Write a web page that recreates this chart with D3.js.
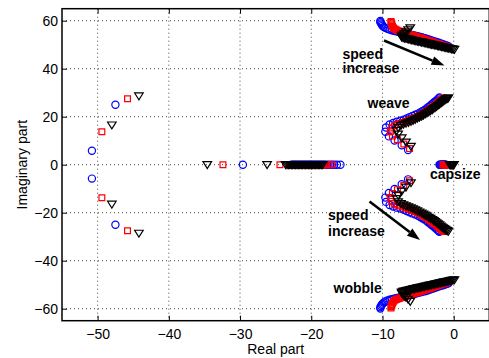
<!DOCTYPE html>
<html>
<head>
<meta charset="utf-8">
<script src="https://cdn.jsdelivr.net/npm/d3@7"></script>
<style>
  html, body { margin: 0; padding: 0; background: #fff; }
  svg { display: block; font-family: "Liberation Sans", Arial, Helvetica, sans-serif; }
</style>
</head>
<body>
<svg id="chart" width="489" height="358"></svg>
<script>
// ---- tick labels ----
const xTicks = [-50, -40, -30, -20, -10, 0];
const yTicks = [-60, -40, -20, 0, 20, 40, 60];

// ---- blue (circles) : upper-half eigenvalues [real, imag] ----
const blueFarPair = [[-50.8, 5.8], [-47.5, 25.0]];
const blueWobble = [[-10.3,59.9],[-10.3,59.4],[-10.2,58.9],[-10.1,58.4],[-10.0,57.9],[-9.8,57.4],[-9.6,57.0],[-9.3,56.6],[-9.0,56.3],[-8.7,56.0],[-8.4,55.8],[-8.1,55.6],[-7.8,55.4],[-7.5,55.2],[-7.2,55.0],[-6.9,54.8],[-6.6,54.6],[-6.3,54.4],[-6.0,54.2],[-5.7,54.0],[-5.4,53.8],[-5.1,53.5],[-4.8,53.3],[-4.5,53.1],[-4.2,52.8],[-3.9,52.6],[-3.6,52.3],[-3.3,52.0],[-3.0,51.7],[-2.7,51.4],[-2.4,51.1],[-2.1,50.8],[-1.8,50.5],[-1.5,50.2],[-1.2,49.9],[-0.9,49.6],[-0.7,49.3]];
const blueWeave = [[-6.4,6.1],[-7.3,8.1],[-8.3,10.1],[-9.1,11.8],[-9.6,13.7],[-9.5,15.5],[-9.0,16.8],[-8.5,17.4],[-8.0,17.9],[-7.5,18.3],[-7.0,18.8],[-6.6,19.3],[-6.2,19.8],[-5.8,20.3],[-5.4,20.8],[-5.0,21.3],[-4.7,21.8],[-4.4,22.3],[-4.1,22.8],[-3.8,23.4],[-3.6,24.0],[-3.3,24.6],[-3.1,25.1],[-2.9,25.6],[-2.7,26.1],[-2.5,26.6],[-2.3,27.1],[-2.1,27.6],[-2.0,28.0]];
const blueReal = [-29.6,-22.8,-22.6,-22.4,-22.2,-22.0,-21.8,-21.6,-21.4,-21.2,-21.0,-20.8,-20.6,-20.4,-20.2,-20.0,-19.8,-19.6,-19.4,-19.2,-19.0,-18.8,-18.6,-18.4,-18.2,-18.0,-17.7,-17.4,-17.1,-16.8,-16.4,-15.9];
const blueCapsize = [-2.0,-1.9,-1.8,-1.7,-1.6,-1.5,-1.42,-1.34,-1.26,-1.18,-1.1];

// ---- red (squares) ----
const redFarPair = [[-49.4, 13.75], [-45.8, 27.5]];
const redWobble = [[-8.8,59.7],[-8.8,59.2],[-8.7,58.7],[-8.7,58.2],[-8.6,57.7],[-8.5,57.2],[-8.4,56.8],[-8.2,56.4],[-8.0,56.1],[-7.8,55.85],[-7.6,55.65],[-7.4,55.45],[-7.2,55.25],[-7.0,55.05],[-6.8,54.85],[-6.6,54.65],[-6.4,54.45],[-6.2,54.25],[-6.0,54.05],[-5.8,53.85],[-5.6,53.7],[-5.4,53.5],[-5.2,53.3],[-5.0,53.1],[-4.8,52.95],[-4.6,52.75],[-4.4,52.55],[-4.2,52.35],[-4.0,52.15],[-3.8,51.95],[-3.6,51.75],[-3.4,51.55],[-3.2,51.35],[-3.0,51.15],[-2.8,50.95],[-2.6,50.75],[-2.4,50.55],[-2.2,50.35],[-2.0,50.15],[-1.8,49.95],[-1.6,49.75],[-1.4,49.55],[-1.2,49.35],[-1.0,49.15],[-0.9,49.0]];
const redWeave = [[-6.2,6.7],[-7.0,8.6],[-7.9,10.4],[-8.6,12.0],[-8.9,13.7],[-8.7,15.3],[-8.3,16.3],[-7.9,16.8],[-7.5,17.2],[-7.1,17.6],[-6.75,18.0],[-6.4,18.4],[-6.05,18.8],[-5.7,19.2],[-5.4,19.6],[-5.1,20.0],[-4.8,20.45],[-4.5,20.9],[-4.25,21.35],[-4.0,21.8],[-3.75,22.25],[-3.5,22.7],[-3.3,23.2],[-3.1,23.7],[-2.9,24.15],[-2.7,24.6],[-2.5,25.05],[-2.3,25.5],[-2.15,25.9],[-2.0,26.3],[-1.85,26.7],[-1.7,27.05],[-1.55,27.4],[-1.4,27.8]];
const redReal = [-32.4,-24.4,-23.0,-22.8,-22.6,-22.4,-22.2,-22.0,-21.8,-21.6,-21.4,-21.2,-21.0,-20.8,-20.6,-20.4,-20.2,-20.0,-19.8,-19.6,-19.4,-19.2,-19.0,-18.8,-18.6,-18.4,-18.2,-17.9,-17.5,-17.1];
const redCapsize = [-1.5,-1.4,-1.3,-1.2,-1.1,-1.0,-0.92,-0.84,-0.76,-0.68,-0.6];

// ---- black (down triangles) ----
const blackFarPair = [[-48.0, 16.5], [-44.2, 28.6]];
const blackWobble = [[-6.1,57.0],[-6.4,56.1],[-6.7,55.3],[-6.95,54.6],[-7.15,54.0],[-7.3,53.5],[-7.3,53.1],[-7.1,52.85],[-6.9,52.7],[-6.7,52.55],[-6.5,52.4],[-6.3,52.25],[-6.1,52.1],[-5.9,51.95],[-5.7,51.8],[-5.5,51.7],[-5.3,51.55],[-5.1,51.4],[-4.9,51.3],[-4.7,51.15],[-4.5,51.0],[-4.3,50.9],[-4.1,50.75],[-3.9,50.6],[-3.7,50.5],[-3.5,50.35],[-3.3,50.2],[-3.1,50.1],[-2.9,49.95],[-2.7,49.8],[-2.5,49.7],[-2.3,49.55],[-2.1,49.4],[-1.9,49.3],[-1.7,49.15],[-1.5,49.0],[-1.3,48.9],[-1.1,48.75],[-0.9,48.6],[-0.7,48.5],[-0.5,48.35],[-0.3,48.2],[-0.1,48.1],[0.1,48.0]];
const blackWeave = [[-6.0,7.6],[-6.7,9.4],[-7.3,11.1],[-7.8,12.7],[-8.0,14.2],[-7.8,15.5],[-7.4,16.3],[-7.05,16.8],[-6.7,17.2],[-6.35,17.6],[-6.0,18.0],[-5.7,18.4],[-5.4,18.85],[-5.1,19.3],[-4.8,19.75],[-4.5,20.2],[-4.25,20.6],[-4.0,21.05],[-3.75,21.5],[-3.5,21.95],[-3.25,22.4],[-3.0,22.9],[-2.8,23.35],[-2.6,23.8],[-2.4,24.25],[-2.2,24.7],[-2.0,25.15],[-1.8,25.6],[-1.65,26.0],[-1.5,26.35],[-1.35,26.7],[-1.2,27.0],[-1.05,27.3],[-0.9,27.55],[-0.75,27.8]];
const blackReal = [-34.6,-26.2,-23.6,-23.4,-23.2,-23.0,-22.8,-22.6,-22.4,-22.2,-22.0,-21.8,-21.6,-21.4,-21.2,-21.0,-20.8,-20.6,-20.4,-20.2,-20.0,-19.8,-19.6,-19.4,-19.2,-19.0,-18.8,-18.6,-18.4];
const blackCapsize = [-0.55,-0.48,-0.41,-0.34,-0.27,-0.2,-0.14,-0.08,-0.02,0.03];

// ---- annotations ----
const labels = [
  {text: "speed", x: 342.5, y: 58.5},
  {text: "increase", x: 342.5, y: 73},
  {text: "weave", x: 367.5, y: 107.5},
  {text: "capsize", x: 430, y: 178.5},
  {text: "speed", x: 328, y: 220},
  {text: "increase", x: 328, y: 235.5},
  {text: "wobble", x: 333.5, y: 292.5}
];
const arrows = [
  {x1: 384, y1: 40.5, x2: 444.5, y2: 65.5},
  {x1: 369.5, y1: 201.5, x2: 420, y2: 240}
];

const svg = d3.select("#chart");
const L = 62, R = 489.3, T = 8.7, B = 320.7;

const x = d3.scaleLinear().domain([-55, 5]).range([L, R]);
const y = d3.scaleLinear().domain([-65, 65]).range([B, T]);

// grid
const grid = svg.append("g").attr("stroke", "#333").attr("stroke-width", 0.9)
  .attr("stroke-dasharray", "1,3").attr("fill", "none");
xTicks.forEach(t => grid.append("line").attr("x1", x(t)).attr("x2", x(t)).attr("y1", T).attr("y2", B));
yTicks.forEach(t => grid.append("line").attr("y1", y(t)).attr("y2", y(t)).attr("x1", L).attr("x2", R));

// build the mark lists (complex eigenvalues come in conjugate pairs)
function complexPts(arr) {
  const out = [];
  arr.forEach(p => { out.push([p[0], p[1]]); out.push([p[0], -p[1]]); });
  return out;
}
function realPts(arr) { return arr.map(v => [v, 0]); }

const series = [
  {color: "#0000ff", shape: "circle",
   pts: [].concat(complexPts(blueFarPair), realPts(blueReal), complexPts(blueWobble), complexPts(blueWeave), realPts(blueCapsize))},
  {color: "#ff0000", shape: "square",
   pts: [].concat(complexPts(redFarPair), realPts(redReal), complexPts(redWobble), complexPts(redWeave), realPts(redCapsize))},
  {color: "#000000", shape: "tri",
   pts: [].concat(complexPts(blackFarPair), realPts(blackReal), complexPts(blackWobble), complexPts(blackWeave), realPts(blackCapsize))}
];

const shapePath = {
  circle: "M3.6,0A3.6,3.6 0 1,1 -3.6,0A3.6,3.6 0 1,1 3.6,0Z",
  square: "M-2.9,-2.9L2.9,-2.9L2.9,2.9L-2.9,2.9Z",
  tri: "M-4.3,-3.1L4.3,-3.1L0,3.8Z"
};

const plot = svg.append("g");
series.forEach(s => {
  plot.append("g").selectAll("path").data(s.pts).join("path")
    .attr("d", shapePath[s.shape])
    .attr("transform", d => `translate(${x(d[0])},${y(d[1])})`)
    .attr("fill", "none").attr("stroke", s.color).attr("stroke-width", 1.2);
});

// axes
const fontSize = 14;
const axB = svg.append("g").attr("transform", `translate(0,${B})`)
  .call(d3.axisBottom(x).tickValues(xTicks).tickSize(-5).tickPadding(8));
const axL = svg.append("g").attr("transform", `translate(${L},0)`)
  .call(d3.axisLeft(y).tickValues(yTicks).tickSize(-5).tickPadding(4));
const axT = svg.append("g").attr("transform", `translate(0,${T})`)
  .call(d3.axisTop(x).tickValues(xTicks).tickSize(-5).tickFormat(""));
const axR = svg.append("g").attr("transform", `translate(${R},0)`)
  .call(d3.axisRight(y).tickValues(yTicks).tickSize(-5).tickFormat(""));
[axB, axL, axT, axR].forEach(a => {
  a.select(".domain").remove();
  a.selectAll(".tick line").attr("stroke", "#000").attr("stroke-width", 1);
  a.selectAll("text").attr("font-size", fontSize).attr("fill", "#000")
    .attr("font-family", '"Liberation Sans", Arial, Helvetica, sans-serif');
});
svg.append("rect").attr("x", L).attr("y", T).attr("width", R - L).attr("height", B - T)
  .attr("fill", "none").attr("stroke", "#000").attr("stroke-width", 1.5);

// axis titles
svg.append("text").attr("x", (L + R) / 2).attr("y", 353.5).attr("text-anchor", "middle")
  .attr("font-size", 14).text("Real part");
svg.append("text").attr("transform", `translate(26.5,${(T + B) / 2}) rotate(-90)`)
  .attr("text-anchor", "middle").attr("font-size", 14).text("Imaginary part");

// annotations
svg.append("g").selectAll("text").data(labels).join("text")
  .attr("x", d => d.x).attr("y", d => d.y)
  .attr("font-size", 14).attr("font-weight", "bold").text(d => d.text);

arrows.forEach(a => {
  const ang = Math.atan2(a.y2 - a.y1, a.x2 - a.x1);
  const hl = 13, hw = 4.5;
  const bx = a.x2 - hl * Math.cos(ang), by = a.y2 - hl * Math.sin(ang);
  svg.append("line").attr("x1", a.x1).attr("y1", a.y1).attr("x2", bx).attr("y2", by)
    .attr("stroke", "#000").attr("stroke-width", 2.5);
  const px = -Math.sin(ang) * hw, py = Math.cos(ang) * hw;
  svg.append("path")
    .attr("d", `M${a.x2},${a.y2}L${bx + px},${by + py}L${bx - px},${by - py}Z`)
    .attr("fill", "#000");
});
</script>
</body>
</html>
